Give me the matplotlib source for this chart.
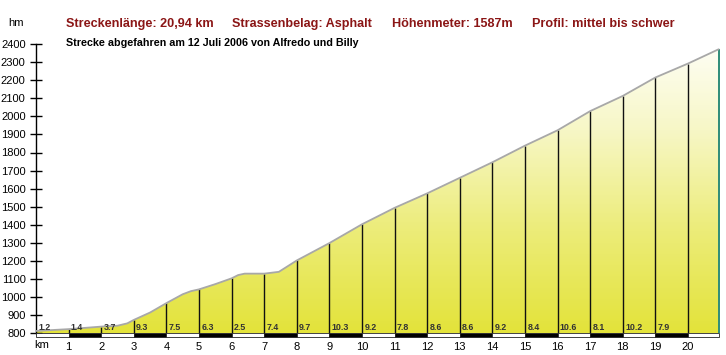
import numpy as np
import matplotlib
matplotlib.use("Agg")
import matplotlib.pyplot as plt
from matplotlib.patches import Polygon
from matplotlib.colors import LinearSegmentedColormap

plt.rcParams['font.family'] = ['Liberation Sans', 'DejaVu Sans']

# ---- data ----
dist = [0, 0.5, 1, 1.5, 2, 2.5, 2.8, 3, 3.5, 4, 4.5, 4.75, 5, 5.5, 6, 6.2, 6.4, 7, 7.45, 8,
        9, 10, 11, 12, 13, 14, 15, 16, 17, 18, 19, 20, 20.94]
elev = [813, 818, 823, 830, 837, 842, 855, 874, 915, 967, 1016, 1033, 1043, 1072, 1104, 1122,
        1130, 1130, 1140, 1203, 1299, 1403, 1494, 1574, 1660, 1746, 1838, 1923, 2029, 2113,
        2215, 2292, 2371]
km_marks = list(range(1, 21))
km_labels = [str(k) for k in km_marks]
seg_bounds = list(range(0, 21)) + [20.94]
grades = ["1.2", "1.4", "3.7", "9.3", "7.5", "6.3", "2.5", "7.4", "9.7", "10.3",
          "9.2", "7.8", "8.6", "8.6", "9.2", "8.4", "10.6", "8.1", "10.2", "7.9"]
y_ticks = list(range(800, 2401, 100))
titles = ["Streckenlänge: 20,94 km", "Strassenbelag: Asphalt",
          "Höhenmeter: 1587m", "Profil: mittel bis schwer"]
subtitle = "Strecke abgefahren am 12 Juli 2006 von Alfredo und Billy"

# ---- figure ----
W, H = 726, 355
fig = plt.figure(figsize=(W / 100, H / 100), dpi=100)
ax = fig.add_axes([0, 0, 1, 1])
ax.set_facecolor('white')

x0px, kmpx = 36.0, 32.6
y800px, px100 = 333.3, 18.08
ax.set_xlim(-x0px / kmpx, (W - x0px) / kmpx)
ax.set_ylim(800 - (H - y800px) / px100 * 100, 800 + y800px / px100 * 100)

base = 800
end = dist[-1]

# gradient fill clipped to profile
verts = [(dist[0], base)] + list(zip(dist, elev)) + [(end, base)]
poly = Polygon(verts, closed=True, facecolor='none', edgecolor='none')
ax.add_patch(poly)
cmap = LinearSegmentedColormap.from_list('yl', [(0.0, '#e3e33a'), (0.35, '#ecec78'),
                                                (0.7, '#f7f7c6'), (1.0, '#fefef6')])
grad = np.linspace(0, 1, 256).reshape(-1, 1)
im = ax.imshow(grad, extent=[0, end, 800, 2400], origin='lower', aspect='auto',
               cmap=cmap, zorder=1)
im.set_clip_path(poly)

# km vertical lines
ax.vlines(km_marks, base, np.interp(km_marks, dist, elev), color='#111111', lw=1.0, zorder=3)
# end line
ax.vlines([end], base, [elev[-1]], color='#2e8c78', lw=1.4, zorder=3)
# profile line
ax.plot(dist, elev, color='#a8a8a8', lw=1.3, zorder=4, solid_capstyle='round')

# bottom strip
starts = seg_bounds[:-1]
widths = np.diff(seg_bounds)
cols = ['white' if i % 2 == 0 else 'black' for i in range(len(starts))]
ax.bar(starts, 20, bottom=780, width=widths, align='edge', color=cols,
       edgecolor='#222222', lw=0.6, zorder=3)

# grade labels
for s, g in zip(starts, grades):
    ax.text(s + 0.07, 821, g, fontsize=6.4, fontweight='bold', color='#333333',
            ha='left', va='baseline', zorder=5)

# axes / ticks
for k in ['top', 'right']:
    ax.spines[k].set_visible(False)
ax.spines['left'].set_position(('data', 0))
ax.spines['left'].set_bounds(800, 2400)
ax.spines['left'].set_linewidth(1.0)
ax.spines['bottom'].set_position(('data', 800))
ax.spines['bottom'].set_color('none')
ax.set_yticks(y_ticks)
ax.set_yticklabels([str(v) for v in y_ticks])
ax.tick_params(axis='y', direction='inout', length=9, width=1, labelsize=8, pad=3,
               colors='black')
ax.set_xticks(km_marks)
ax.set_xticklabels(km_labels)
ax.tick_params(axis='x', length=0, labelsize=8, pad=6.5, colors='black')

fig.text(41.5 / W, 1 - 345.5 / H, 'km', fontsize=8, ha='center', va='center')
fig.text(16 / W, 1 - 23 / H, 'hm', fontsize=8, ha='center', va='center')

tx = [66.5, 232.3, 392.3, 531.7]
for x, t in zip(tx, titles):
    fig.text(x / W, 1 - 27 / H, t, fontsize=9.1, fontweight='bold', color='#8b1616',
             ha='left', va='baseline')
fig.text(66.5 / W, 1 - 46.5 / H, subtitle, fontsize=7.75, fontweight='bold',
         color='black', ha='left', va='baseline')

fig.savefig('out.png', dpi=100)
